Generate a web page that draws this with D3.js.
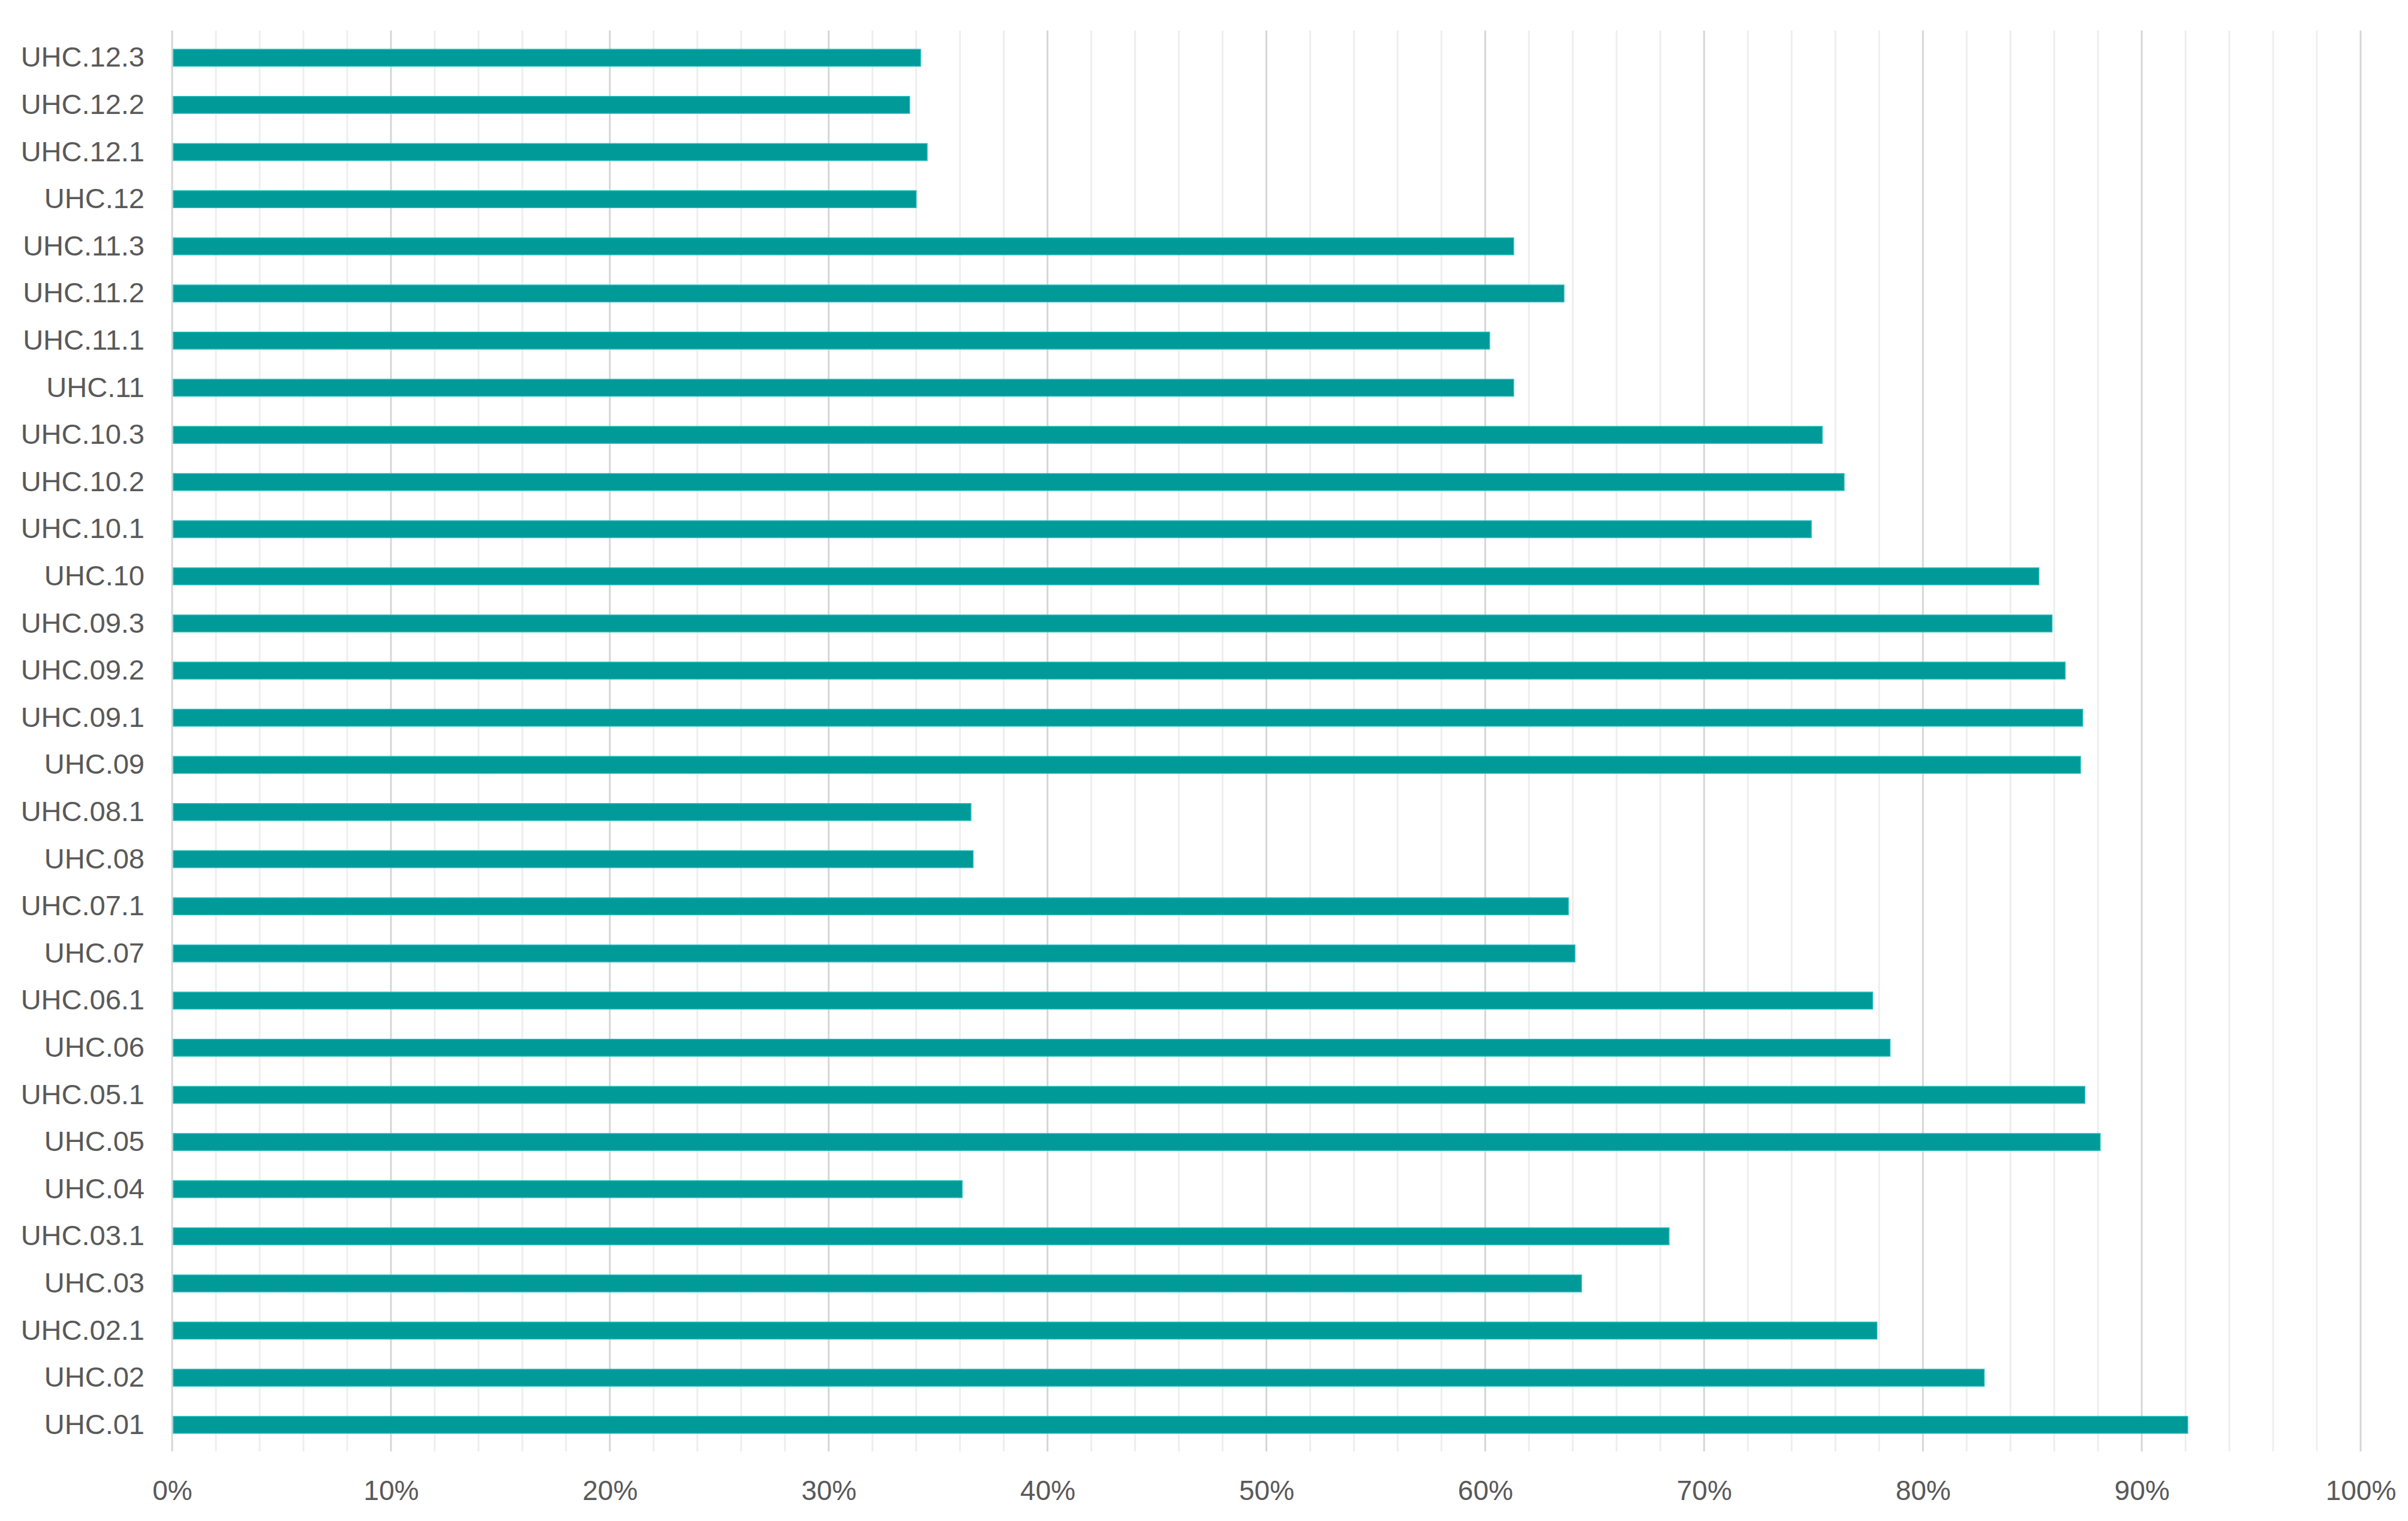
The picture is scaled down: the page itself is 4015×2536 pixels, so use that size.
<!DOCTYPE html>
<html>
  <head>
    <meta charset="utf-8">
    <title>UHC coverage</title>
    <script src="https://d3js.org/d3.v7.min.js"></script>
    <style>
      body { margin: 0; background: #fff; }
      text { font-family: "Liberation Sans", Arial, sans-serif; fill: #595959; }
    </style>
  </head>
  <body>
    <svg id="chart"></svg>
    <script>
      // categories, bottom to top as in the source sheet
      var categories = ["UHC.01", "UHC.02", "UHC.02.1", "UHC.03", "UHC.03.1", "UHC.04",
        "UHC.05", "UHC.05.1", "UHC.06", "UHC.06.1", "UHC.07", "UHC.07.1", "UHC.08", "UHC.08.1",
        "UHC.09", "UHC.09.1", "UHC.09.2", "UHC.09.3", "UHC.10", "UHC.10.1", "UHC.10.2", "UHC.10.3",
        "UHC.11", "UHC.11.1", "UHC.11.2", "UHC.11.3", "UHC.12", "UHC.12.1", "UHC.12.2", "UHC.12.3"];
      var values = [0.921, 0.828, 0.779, 0.644, 0.684, 0.361,
        0.881, 0.874, 0.785, 0.777, 0.641, 0.638, 0.366, 0.365,
        0.872, 0.873, 0.865, 0.859, 0.853, 0.749, 0.764, 0.754,
        0.613, 0.602, 0.636, 0.613, 0.340, 0.345, 0.337, 0.342];
      var tickValues = [0, 0.1, 0.2, 0.3, 0.4, 0.5, 0.6, 0.7, 0.8, 0.9, 1];
      var minorTicks = d3.range(0, 51).map(function(i) { return i / 50; });

      var width = 4015, height = 2536;
      var svg = d3.select("#chart")
        .attr("width", width)
        .attr("height", height);

      var x = d3.scaleLinear()
        .domain([0, 1])
        .range([287, 3936]);
      var y = d3.scaleBand()
        .domain(categories.slice().reverse())
        .range([57, 2415])
        .paddingInner(0.64)
        .paddingOuter(0.32);

      // gridlines
      svg.append("g")
        .selectAll("line")
          .data(minorTicks)
        .enter().append("line")
          .attr("x1", function(d) { return x(d); })
          .attr("x2", function(d) { return x(d); })
          .attr("y1", 51)
          .attr("y2", 2420)
          .attr("stroke", function(d, i) { return i % 5 == 0 ? "#d6d6d6" : "#eeeeee"; })
          .attr("stroke-width", 3);

      // bars
      svg.append("g")
        .selectAll("rect")
          .data(categories)
        .enter().append("rect")
          .attr("x", x(0) + 2)
          .attr("y", function(d) { return y(d); })
          .attr("width", function(d, i) { return x(values[i]) - x(0) - 2; })
          .attr("height", y.bandwidth())
          .attr("fill", "#009a98")
          .attr("stroke", "#22bcbc")
          .attr("stroke-width", 1.5);

      // category labels
      var yAxis = svg.append("g")
        .attr("transform", "translate(" + (x(0) - 46) + ",0)")
        .call(d3.axisLeft(y).tickSize(0).tickPadding(0));
      yAxis.select(".domain").remove();
      yAxis.selectAll("text")
        .attr("font-size", 47)
        .attr("fill", "#595959");

      // value axis
      var xAxis = svg.append("g")
        .attr("transform", "translate(0,2468)")
        .call(d3.axisBottom(x).tickValues(tickValues).tickFormat(d3.format(".0%")).tickSize(0).tickPadding(0));
      xAxis.select(".domain").remove();
      xAxis.selectAll("text")
        .attr("font-size", 46)
        .attr("fill", "#595959");
      svg.selectAll("text").style("font-family", "'Liberation Sans', Arial, sans-serif");
    </script>
  </body>
</html>
